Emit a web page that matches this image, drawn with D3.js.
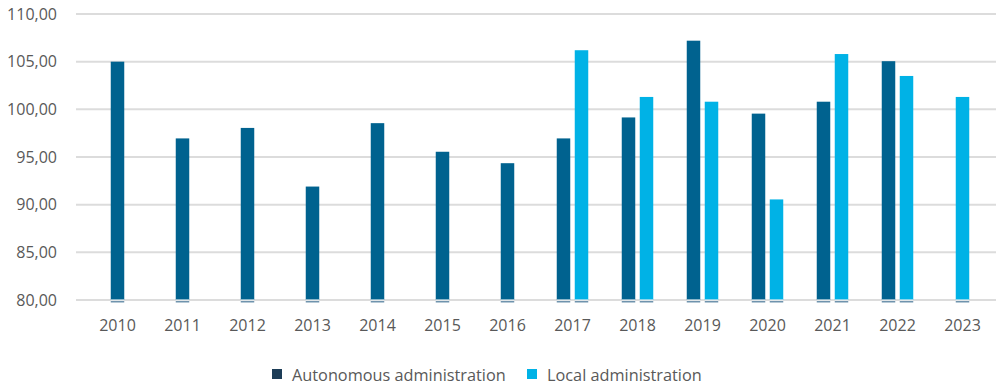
<!DOCTYPE html>
<html><head><meta charset="utf-8">
<script src="https://cdn.jsdelivr.net/npm/d3@7"></script>
<style>
html,body{margin:0;padding:0;background:#fff;}
svg{display:block;font-family:"Open Sans",sans-serif;}
</style></head>
<body><svg id="c" width="996" height="388"></svg>
<script>
const years = ["2010","2011","2012","2013","2014","2015","2016","2017","2018","2019","2020","2021","2022","2023"];
const autonomous = [105.0, 96.95, 98.05, 91.9, 98.55, 95.55, 94.35, 96.95, 99.15, 107.2, 99.55, 100.8, 105.05, null];
const local = [null, null, null, null, null, null, null, 106.2, 101.3, 100.8, 90.55, 105.8, 103.5, 101.3];
const seriesNames = ["Autonomous administration", "Local administration"];
const seriesColors = ["#00628f", "#00b2e6"];
const legendColors = ["#1d3d57", "#00b2e6"];
const yTicks = [80, 85, 90, 95, 100, 105, 110];

const svg = d3.select("#c");
const x = d3.scaleBand().domain(years).range([85, 995]);
const y = d3.scaleLinear().domain([80, 110]).range([300, 14]);
const fmt = v => d3.format(".2f")(v).replace(".", ",");

// gridlines
svg.append("g").selectAll("line").data(yTicks).join("line")
  .attr("x1", 76).attr("x2", 996)
  .attr("y1", d => y(d)).attr("y2", d => y(d))
  .attr("stroke", "#dcdcdc").attr("stroke-width", 2);

// y labels
svg.append("g").selectAll("text").data(yTicks).join("text")
  .attr("x", 57).attr("y", d => y(d)).attr("dy", "0.35em")
  .attr("text-anchor", "end").attr("fill", "#595959")
  .attr("font-size", "16px").text(fmt);

// bars
const barW = 13.5, gap = 4.5;
const bars = [];
years.forEach((yr, i) => {
  const vals = [autonomous[i], local[i]];
  const present = vals.map((v, s) => ({v, s})).filter(d => d.v != null);
  const n = present.length;
  const center = x(yr) + x.bandwidth() / 2;
  const total = n * barW + (n - 1) * gap;
  present.forEach((d, k) => {
    bars.push({yr, v: d.v, s: d.s, x0: center - total / 2 + k * (barW + gap)});
  });
});
const g = svg.append("g");
g.selectAll("rect.bar").data(bars).join("rect")
  .attr("class", "bar")
  .attr("x", d => d.x0).attr("width", barW)
  .attr("y", d => y(d.v)).attr("height", d => y(80) - y(d.v))
  .attr("fill", d => seriesColors[d.s]);
g.selectAll("rect.base").data(bars).join("rect")
  .attr("class", "base")
  .attr("x", d => d.x0).attr("width", barW)
  .attr("y", y(80) + 1).attr("height", 1.5)
  .attr("fill", "#6f93ad");
g.selectAll("line.bl").data(bars).join("line")
  .attr("class", "bl")
  .attr("x1", d => d.x0).attr("x2", d => d.x0 + barW)
  .attr("y1", y(80)).attr("y2", y(80))
  .attr("stroke", "#e8eef2").attr("stroke-width", 1.2);

// x labels
svg.append("g").selectAll("text").data(years).join("text")
  .attr("x", d => x(d) + x.bandwidth() / 2).attr("y", 325).attr("dy", "0.35em")
  .attr("text-anchor", "middle").attr("fill", "#595959")
  .attr("font-size", "16px").text(d => d);

// legend
const legendX = [272, 527];
const lg = svg.append("g");
seriesNames.forEach((name, i) => {
  lg.append("rect").attr("x", legendX[i]).attr("y", 369).attr("width", 10).attr("height", 10)
    .attr("fill", legendColors[i]);
  lg.append("text").attr("x", legendX[i] + 20).attr("y", 375).attr("dy", "0.35em")
    .attr("fill", "#595959").attr("font-size", "16.3px").text(name);
});
</script></body></html>
